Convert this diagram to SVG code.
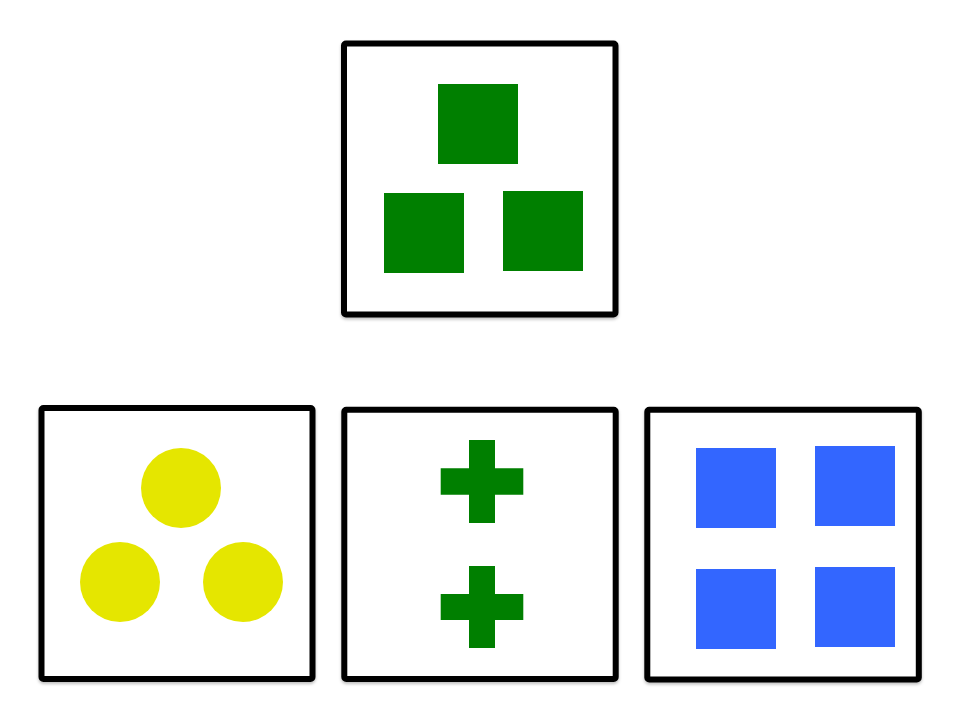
<svg xmlns="http://www.w3.org/2000/svg" width="960" height="720" viewBox="0 0 960 720">
  <defs>
    <filter id="shadow" x="-5%" y="-5%" width="110%" height="110%">
      <feDropShadow dx="0" dy="2" stdDeviation="1.5" flood-color="#000" flood-opacity="0.25"/>
    </filter>
  </defs>
  <style>
    .box { fill: #ffffff; stroke: #000000; stroke-width: 6; filter: url(#shadow); }
    .green { fill: #007f00; }
    .yellow { fill: #e5e600; }
    .blue { fill: #3366ff; }
  </style>
  <rect width="960" height="720" fill="#ffffff"/>

  <g id="top-squares">
    <rect class="box" x="344" y="43.5" width="271.5" height="271" rx="2"/>
    <rect class="green" x="438" y="84" width="80" height="80"/>
    <rect class="green" x="384" y="193" width="80" height="80"/>
    <rect class="green" x="503" y="191" width="80" height="80"/>
  </g>

  <g id="yellow-circles">
    <rect class="box" x="41.5" y="408" width="271" height="271" rx="2"/>
    <circle class="yellow" cx="181" cy="488" r="40"/>
    <circle class="yellow" cx="120" cy="582" r="40"/>
    <circle class="yellow" cx="243" cy="582" r="40"/>
  </g>

  <g id="green-crosses">
    <rect class="box" x="344.3" y="409.8" width="271.4" height="269.2" rx="2"/>
    <path class="green" d="M469,440 H495 V468.3 H523.3 V494.7 H495 V523 H469 V494.7 H440.7 V468.3 H469 Z"/>
    <path class="green" d="M469,566 H495 V594 H523.3 V620 H495 V648 H469 V620 H440.7 V594 H469 Z"/>
  </g>

  <g id="blue-squares">
    <rect class="box" x="647.3" y="409.7" width="271.5" height="269.8" rx="2"/>
    <rect class="blue" x="696" y="448" width="80" height="80"/>
    <rect class="blue" x="815" y="446" width="80" height="80"/>
    <rect class="blue" x="696" y="569" width="80" height="80"/>
    <rect class="blue" x="815" y="567" width="80" height="80"/>
  </g>
</svg>
